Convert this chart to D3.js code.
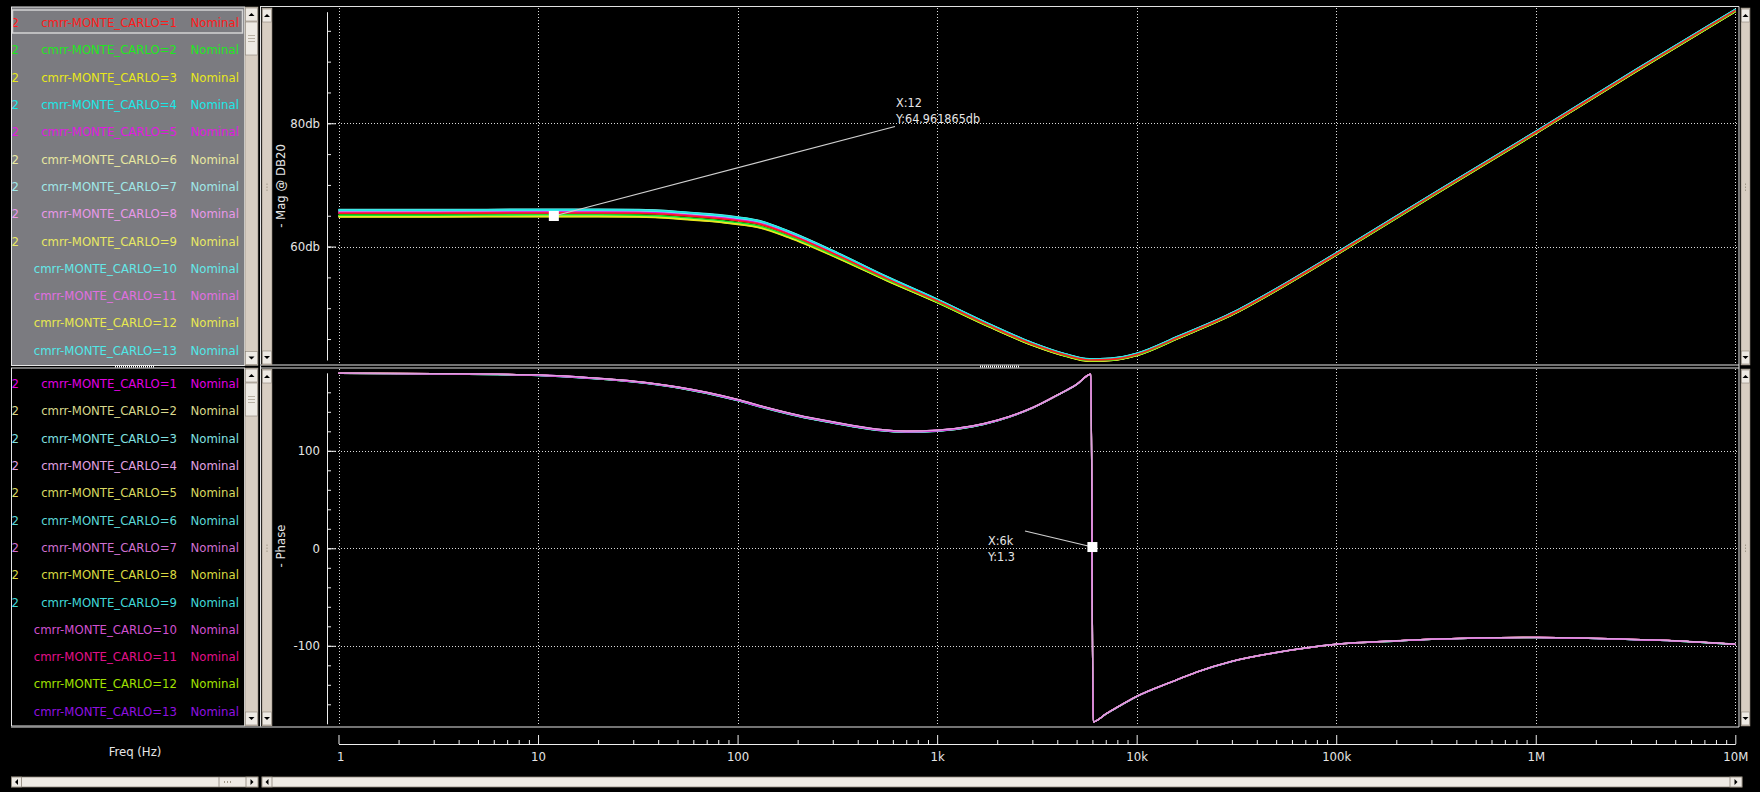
<!DOCTYPE html>
<html><head><meta charset="utf-8">
<script src="https://cdn.jsdelivr.net/npm/d3@7"></script>
<style>
body{margin:0;background:#000;overflow:hidden}
text{font-family:"DejaVu Sans Condensed","DejaVu Sans",sans-serif;font-size:13px;font-stretch:condensed}
</style></head><body>
<script>
// ---- data ----
const freq       = [1, 3, 10, 20, 32, 50, 72, 100, 130, 180, 320, 560, 1000, 1800, 3000, 4400, 5800, 7400, 10000, 16200, 31000, 50000, 100000, 316000, 1e6, 3.16e6, 1e7];
const magDb      = [65.4, 65.4, 65.45, 65.45, 65.4, 65.1, 64.7, 64.2, 63.6, 62.0, 58.5, 54.8, 51.2, 47.3, 44.2, 42.4, 41.6, 41.7, 42.5, 45.3, 49.3, 53.0, 58.8, 68.7, 78.5, 88.5, 98.3];
const spreadFade = [1, 1, 1, 1, 1, 1, 1, 1, 0.95, 0.85, 0.7, 0.55, 0.45, 0.4, 0.35, 0.3, 0.3, 0.3, 0.3, 0.3, 0.3, 0.3, 0.3, 0.3, 0.3, 0.3, 0.3];

const phFreq   = [1, 3, 10, 20, 30, 50, 100, 130, 200, 300, 500, 700, 1000, 1500, 2000, 3000, 4000, 5000, 5900, 6050, 7000, 8000, 10000, 15000, 20000, 30000, 50000, 100000, 200000, 500000, 1e6, 2e6, 5e6, 1e7];
const phaseDeg = [179.5, 179, 177.5, 174, 171, 165, 152, 145.5, 136, 129, 121.5, 119.5, 120.5, 125, 131, 144, 157, 168, 178.5, -178, -170, -163, -152, -137, -127, -116, -107, -98.5, -95, -92, -91.5, -92.5, -95, -98.5];
const phFade   = [0.3, 0.3, 0.5, 0.6, 0.7, 0.8, 1, 1, 1, 1, 1, 1, 1, 0.8, 0.6, 0.4, 0.3, 0.2, 0.1, 0.1, 0.2, 0.2, 0.2, 0.2, 0.2, 0.2, 0.2, 0.2, 0.2, 0.2, 0.2, 0.2, 0.2, 0.2];

const runs = ["cmrr-MONTE_CARLO=1", "cmrr-MONTE_CARLO=2", "cmrr-MONTE_CARLO=3", "cmrr-MONTE_CARLO=4", "cmrr-MONTE_CARLO=5",
  "cmrr-MONTE_CARLO=6", "cmrr-MONTE_CARLO=7", "cmrr-MONTE_CARLO=8", "cmrr-MONTE_CARLO=9", "cmrr-MONTE_CARLO=10",
  "cmrr-MONTE_CARLO=11", "cmrr-MONTE_CARLO=12", "cmrr-MONTE_CARLO=13"];
const runPrefix = ["2", "2", "2", "2", "2", "2", "2", "2", "2", "", "", "", ""];
const magOffset   = [0, -0.3, -0.6, 0.5, 0.15, -0.4, 0.35, 0.05, -0.55, 0.6, 0.2, -0.45, 0.55];
const phaseOffset = [0, 0.4, -0.5, 0.8, 0.2, -0.3, 0.6, 0.1, -0.6, 0.7, 0.3, -0.4, 0.5];
const magColors   = ["#ff1a1a", "#1ee81e", "#e8e81a", "#1ae8e8", "#e01ae0", "#e8e8a0", "#a0e8e8", "#e898e8", "#e8e864", "#64e8e8", "#e070e0", "#e8e850", "#50e8e8"];
const phaseColors = ["#e000e0", "#d8d88c", "#80e0e0", "#e0a0e0", "#d8d860", "#5cd8d8", "#d070d0", "#d8d840", "#40d8d8", "#d050d0", "#e0108a", "#a0e000", "#9010e0"];
const magDrawOrder   = [12, 11, 10, 9, 8, 7, 6, 5, 4, 3, 2, 1, 0];
const phaseDrawOrder = [12, 11, 10, 9, 8, 7, 5, 4, 2, 1, 0, 6, 3];

const freqTicks  = [1, 10, 100, 1e3, 1e4, 1e5, 1e6, 1e7];
const freqLabels = ["1", "10", "100", "1k", "10k", "100k", "1M", "10M"];
const magTicks   = [60, 80];
const magLabels  = ["60db", "80db"];
const phaseTicks = [-100, 0, 100];

const markMag   = {f: 12, v: 64.961865, lines: ["X:12", "Y:64.961865db"], tx: 896, ty: 107, lx: 895, ly: 126.5};
const markPhase = {f: 6000, v: 1.3, lines: ["X:6k", "Y:1.3"], tx: 988, ty: 545, lx: 1025, ly: 531};

// ---- layout ----
const W = 1760, H = 792;
const plotR = 1739, topY0 = 7, topY1 = 365, botY0 = 368, botY1 = 726;
const axisX = 327;

const svg = d3.select("body").append("svg").attr("width", W).attr("height", H);
svg.append("rect").attr("width", W).attr("height", H).attr("fill", "#000");

const x = d3.scaleLog().domain([1, 1e7]).range([338.5, 1735.3]);
const yMag = d3.scaleLinear().domain([41.6, 98.1]).range([360, 11.7]);
const yPh = d3.scaleLinear().domain([-180, 180]).range([723.8, 372.8]);

// scrollbar helpers
const track = "#d8cec2", knob = "#eeeae4", edge = "#8c8478";
function arrow(g, cx, cy, dir) {
  const s = dir === "up" ? -1 : dir === "down" ? 1 : 0;
  if (s) g.append("path").attr("d", `M${cx - 3},${cy - s * 1.5}L${cx + 3},${cy - s * 1.5}L${cx},${cy + s * 1.5}Z`).attr("fill", "#000");
  else {
    const h = dir === "left" ? -1 : 1;
    g.append("path").attr("d", `M${cx - h * 1.5},${cy - 3}L${cx - h * 1.5},${cy + 3}L${cx + h * 1.5},${cy}Z`).attr("fill", "#000");
  }
}
function vbar(x0, y0, y1, w, thumb) {
  const g = svg.append("g");
  g.append("rect").attr("x", x0).attr("y", y0).attr("width", w).attr("height", y1 - y0).attr("fill", track).attr("stroke", edge).attr("stroke-width", 0.6);
  g.append("rect").attr("x", x0 + 0.5).attr("y", y0 + 1).attr("width", w - 1).attr("height", 13).attr("fill", knob).attr("stroke", edge).attr("stroke-width", 0.6);
  arrow(g, x0 + w / 2, y0 + 7.5, "up");
  g.append("rect").attr("x", x0 + 0.5).attr("y", y1 - 14).attr("width", w - 1).attr("height", 13).attr("fill", knob).attr("stroke", edge).attr("stroke-width", 0.6);
  arrow(g, x0 + w / 2, y1 - 7.5, "down");
  if (thumb) {
    g.append("rect").attr("x", x0 + 0.5).attr("y", thumb[0]).attr("width", w - 1).attr("height", thumb[1] - thumb[0]).attr("fill", knob).attr("stroke", edge).attr("stroke-width", 0.6);
    [-3, 0, 3].forEach(d => g.append("line").attr("x1", x0 + 3).attr("x2", x0 + w - 3).attr("y1", (thumb[0] + thumb[1]) / 2 + d).attr("y2", (thumb[0] + thumb[1]) / 2 + d).attr("stroke", "#b8b0a4"));
  } else {
    [-3, 0, 3].forEach(d => g.append("rect").attr("x", x0 + w / 2 - 0.5).attr("y", (y0 + y1) / 2 + d).attr("width", 1).attr("height", 1.5).attr("fill", "#a09888"));
  }
}
function hbar(x0, x1, y0, h, grip) {
  const g = svg.append("g");
  g.append("rect").attr("x", x0).attr("y", y0).attr("width", x1 - x0).attr("height", h).attr("fill", knob).attr("stroke", edge).attr("stroke-width", 0.8);
  g.append("rect").attr("x", x0).attr("y", y0).attr("width", 10).attr("height", h).attr("fill", knob).attr("stroke", edge).attr("stroke-width", 0.8);
  arrow(g, x0 + 5, y0 + h / 2, "left");
  g.append("rect").attr("x", x1 - 12).attr("y", y0).attr("width", 12).attr("height", h).attr("fill", knob).attr("stroke", edge).attr("stroke-width", 0.8);
  arrow(g, x1 - 6, y0 + h / 2, "right");
  if (grip) {
    g.append("line").attr("x1", grip).attr("x2", grip).attr("y1", y0).attr("y2", y0 + h).attr("stroke", edge).attr("stroke-width", 0.8);
    [5, 8, 11].forEach(d => g.append("rect").attr("x", grip + d).attr("y", y0 + h / 2 - 1).attr("width", 1).attr("height", 2).attr("fill", "#a09888"));
  }
}

// ---- legend panels ----
function legend(y0, y1, bg, colors) {
  svg.append("rect").attr("x", 11.5).attr("y", y0).attr("width", 233).attr("height", y1 - y0).attr("fill", bg).attr("stroke", "#e6e6e6").attr("stroke-width", 1);
  const g = svg.append("g");
  const rows = g.selectAll("g").data(runs).join("g").attr("transform", (d, i) => `translate(0,${y0 + 15.5 + i * 27.3})`).attr("fill", (d, i) => colors[i]);
  rows.append("text").attr("x", 11.5).attr("y", 4.6).text((d, i) => runPrefix[i]);
  rows.append("text").attr("x", 177).attr("y", 4.6).attr("text-anchor", "end").text(d => d);
  rows.append("text").attr("x", 190.5).attr("y", 4.6).text("Nominal");
  vbar(245, y0, y1, 13, [y0 + 15, y0 + 48]);
}
legend(7, 365.5, "#7b7b80", magColors);
svg.append("rect").attr("x", 12.5).attr("y", 10).attr("width", 230).attr("height", 23).attr("fill", "none").attr("stroke", "#d4d4d4").attr("stroke-width", 1.5);
legend(368, 726, "#000", phaseColors);

// panel frames
svg.append("line").attr("x1", 260.5).attr("x2", 260.5).attr("y1", 7).attr("y2", 727).attr("stroke", "#e6e6e6");
svg.append("line").attr("x1", 260).attr("x2", plotR).attr("y1", 6.5).attr("y2", 6.5).attr("stroke", "#e0e0e0");
svg.append("line").attr("x1", 260).attr("x2", plotR).attr("y1", 365).attr("y2", 365).attr("stroke", "#9a9a9a").attr("stroke-width", 1.5);
svg.append("line").attr("x1", 260).attr("x2", plotR).attr("y1", 368).attr("y2", 368).attr("stroke", "#e0e0e0");
svg.append("line").attr("x1", 11).attr("x2", plotR).attr("y1", 727).attr("y2", 727).attr("stroke", "#9a9a9a").attr("stroke-width", 1.5);
svg.append("line").attr("x1", plotR).attr("x2", plotR).attr("y1", 6.5).attr("y2", 727).attr("stroke", "#e6e6e6");
vbar(262, topY0 + 1, topY1, 10);
vbar(262, botY0 + 1, botY1, 10);
vbar(1741, topY0 + 1, topY1, 9);
vbar(1741, botY0 + 1, botY1, 9);
// splitter grips
[[115, 155], [980, 1020]].forEach(([a, b]) => svg.append("line").attr("x1", a).attr("x2", b).attr("y1", 366.5).attr("y2", 366.5).attr("stroke", "#fff").attr("stroke-width", 2).attr("stroke-dasharray", "1,1"));

// ---- grids ----
function grid(yScale, ticks, y0, y1) {
  const g = svg.append("g").attr("stroke", "#dcdcdc").attr("stroke-dasharray", "1,2").attr("stroke-width", 1);
  g.selectAll(".v").data(freqTicks).join("line").attr("x1", d => Math.round(x(d)) + 0.5).attr("x2", d => Math.round(x(d)) + 0.5).attr("y1", y0).attr("y2", y1);
  g.selectAll(".h").data(ticks).join("line").attr("x1", axisX + 2).attr("x2", plotR - 1).attr("y1", d => Math.round(yScale(d)) + 0.5).attr("y2", d => Math.round(yScale(d)) + 0.5);
}
grid(yMag, magTicks, topY0 + 1, topY1 - 1);
grid(yPh, phaseTicks, botY0 + 1, botY1 - 1);

// ---- y axes ----
function yAxis(scale, minor, major, fmt, title, cy) {
  const g1 = svg.append("g").attr("transform", `translate(${axisX},0)`).call(d3.axisRight(scale).tickValues(minor).tickSize(4).tickSizeOuter(0).tickFormat(""));
  const g2 = svg.append("g").attr("transform", `translate(${axisX},0)`).call(d3.axisRight(scale).tickValues(major).tickSize(9).tickFormat(""));
  g2.select(".domain").remove();
  const g3 = svg.append("g").attr("transform", `translate(${axisX},0)`).call(d3.axisLeft(scale).tickValues(major).tickSize(0).tickPadding(7).tickFormat(fmt));
  g3.select(".domain").remove();
  [g1, g2, g3].forEach(g => { g.selectAll("line,path").attr("stroke", "#eee"); g.selectAll("text").attr("fill", "#e6e6e6").style("font-size", "13px").attr("font-family", null); });
  svg.append("text").attr("transform", `translate(285,${cy}) rotate(-90)`).attr("text-anchor", "middle").attr("fill", "#e6e6e6").text(title);
}
yAxis(yMag, d3.range(45, 96, 5), magTicks, (d, i) => magLabels[i], "- Mag @ DB20", 186);
yAxis(yPh, d3.range(-160, 161, 20), phaseTicks, d => d, "- Phase", 546);

// ---- x axis ----
const minorF = [];
freqTicks.slice(0, -1).forEach(d => d3.range(2, 10).forEach(k => minorF.push(d * k)));
const xa1 = svg.append("g").attr("transform", "translate(0,744)").call(d3.axisBottom(x).tickValues(minorF).tickSize(-4).tickSizeOuter(0).tickFormat(""));
const xa2 = svg.append("g").attr("transform", "translate(0,744)").call(d3.axisBottom(x).tickValues(freqTicks).tickSize(-9).tickPadding(8).tickFormat((d, i) => freqLabels[i]));
xa2.select(".domain").remove();
[xa1, xa2].forEach(g => { g.selectAll("line,path").attr("stroke", "#eee"); g.selectAll("text").attr("fill", "#e6e6e6").style("font-size", "13px").attr("font-family", null); });
xa2.select(".tick text").attr("text-anchor", "start").attr("dx", -2);
svg.append("text").attr("x", 135).attr("y", 756).attr("text-anchor", "middle").attr("fill", "#e6e6e6").text("Freq (Hz)");
hbar(11.5, 258, 777, 10, 219);
hbar(262, 1742, 777, 10, null);

// ---- traces ----
svg.append("clipPath").attr("id", "clipTop").append("rect").attr("x", axisX + 1).attr("y", topY0 + 1).attr("width", plotR - axisX - 2).attr("height", topY1 - topY0 - 2);
svg.append("clipPath").attr("id", "clipBot").append("rect").attr("x", axisX + 1).attr("y", botY0 + 1).attr("width", plotR - axisX - 2).attr("height", botY1 - botY0 - 2);

const magLine = d3.line().x(d => x(d.f)).y(d => yMag(d.v)).curve(d3.curveMonotoneX);
const phLine = d3.line().x(d => x(d.f)).y(d => yPh(d.v)).curve(d3.curveMonotoneX);

const magSeries = runs.map((name, i) => ({name, color: magColors[i], values: freq.map((f, j) => ({f, v: magDb[j] + magOffset[i] * spreadFade[j]}))}));
const phSeries = runs.map((name, i) => ({name, color: phaseColors[i], values: phFreq.map((f, j) => ({f, v: phaseDeg[j] + phaseOffset[i] * phFade[j]}))}));

svg.append("g").attr("clip-path", "url(#clipTop)").selectAll("path").data(magDrawOrder.map(i => magSeries[i])).join("path")
  .attr("d", d => magLine(d.values)).attr("fill", "none").attr("stroke", d => d.color).attr("stroke-width", 1.6);
svg.append("g").attr("clip-path", "url(#clipBot)").selectAll("path").data(phaseDrawOrder.map(i => phSeries[i])).join("path")
  .attr("d", d => phLine(d.values)).attr("fill", "none").attr("stroke", d => d.color).attr("stroke-width", 1.3);

// ---- markers ----
function marker(m, yScale) {
  const mx = x(m.f), my = yScale(m.v);
  svg.append("line").attr("x1", m.lx).attr("y1", m.ly).attr("x2", mx).attr("y2", my).attr("stroke", "#d0d0d0").attr("stroke-width", 1.2);
  svg.append("rect").attr("x", mx - 5).attr("y", my - 5).attr("width", 10).attr("height", 10).attr("fill", "#fff");
  m.lines.forEach((t, i) => svg.append("text").attr("x", m.tx).attr("y", m.ty + i * 16).attr("fill", "#e6e6e6").style("font-size", "12.5px").text(t));
}
marker(markMag, yMag);
marker(markPhase, yPh);
</script>
</body></html>
